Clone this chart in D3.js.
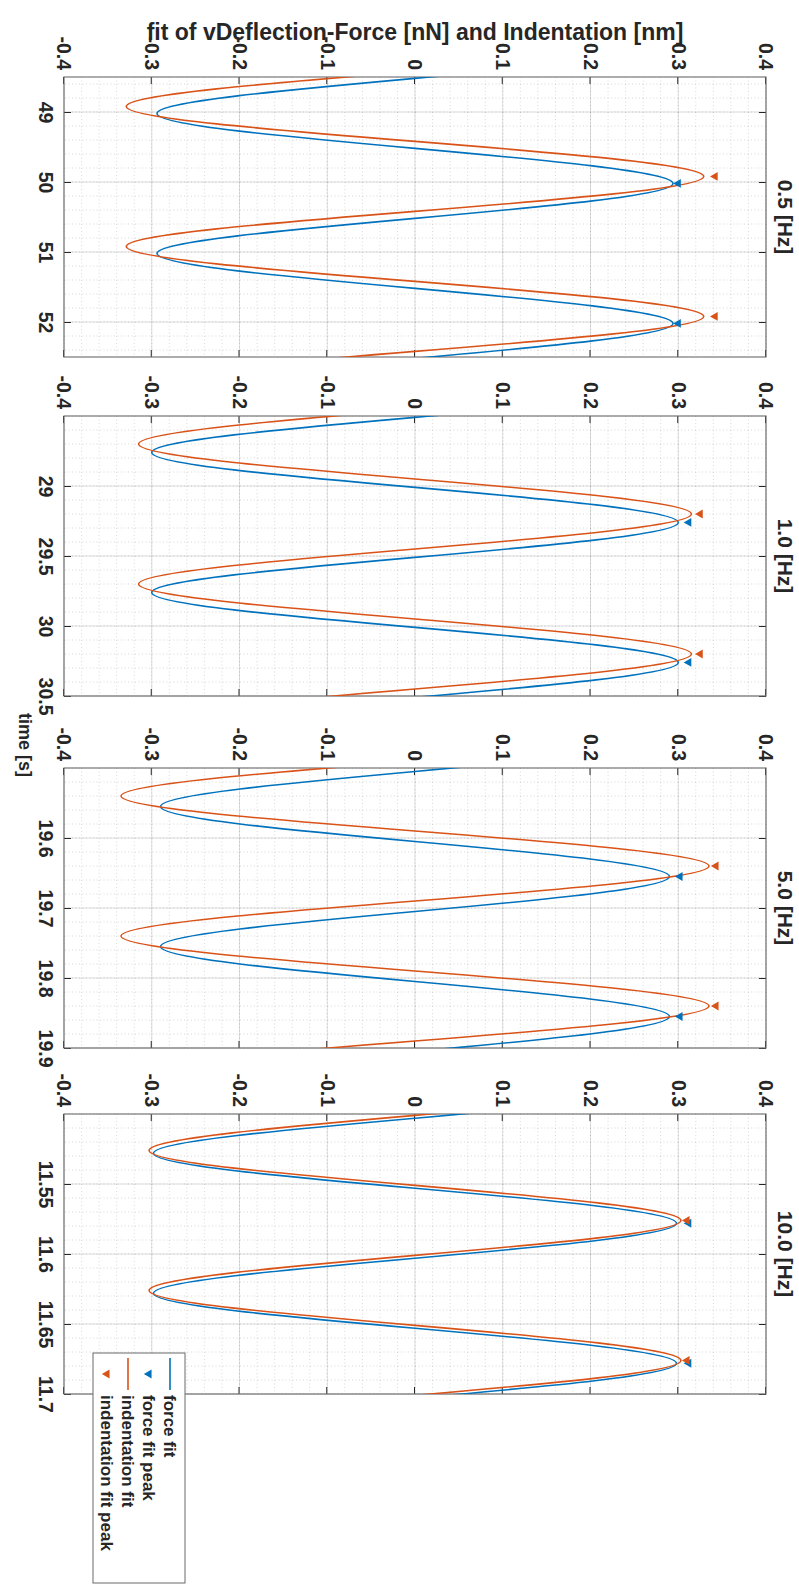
<!DOCTYPE html>
<html>
<head>
<meta charset="utf-8">
<script src="https://cdn.jsdelivr.net/npm/d3@7"></script>
<style>
    body { margin: 0; background: #fff; }
    text { font-family: "Liberation Sans", Arial, Helvetica, sans-serif; font-weight: bold; fill: #262626; }
</style>
</head>
<body>
<div id="chart"></div>
<script>
// ---- data ----
const panelTitles = ["0.5 [Hz]", "1.0 [Hz]", "5.0 [Hz]", "10.0 [Hz]"];
const timeDomains = [[48.5, 52.5], [28.5, 30.5], [19.5, 19.9], [11.5, 11.7]];
const timeTicks = [[49, 50, 51, 52], [29, 29.5, 30, 30.5], [19.6, 19.7, 19.8, 19.9], [11.55, 11.6, 11.65, 11.7]];
const valueDomain = [-0.4, 0.4];
const valueTicks = [-0.4, -0.3, -0.2, -0.1, 0, 0.1, 0.2, 0.3, 0.4];

// fit curves: peaks, troughs and zero crossings of each fit
const forceFitTime = [
    [47.52, 48.02, 48.52, 49.02, 49.52, 50.02, 50.52, 51.02, 51.52, 52.02, 52.52],
    [28.01, 28.26, 28.51, 28.76, 29.01, 29.26, 29.51, 29.76, 30.01, 30.26, 30.51],
    [19.405, 19.455, 19.505, 19.555, 19.605, 19.655, 19.705, 19.755, 19.805, 19.855, 19.905],
    [11.453, 11.478, 11.503, 11.528, 11.553, 11.578, 11.603, 11.628, 11.653, 11.678, 11.703]
];
const forceFitValue = [
    [0, 0.294, 0, -0.294, 0, 0.294, 0, -0.294, 0, 0.294, 0],
    [0, 0.300, 0, -0.300, 0, 0.300, 0, -0.300, 0, 0.300, 0],
    [0, 0.290, 0, -0.290, 0, 0.290, 0, -0.290, 0, 0.290, 0],
    [0, 0.298, 0, -0.298, 0, 0.298, 0, -0.298, 0, 0.298, 0]
];
const indentFitTime = [
    [48.42, 48.92, 49.42, 49.92, 50.42, 50.92, 51.42, 51.92, 52.42, 52.92, 53.42],
    [28.45, 28.70, 28.95, 29.20, 29.45, 29.70, 29.95, 30.20, 30.45, 30.70, 30.95],
    [19.49, 19.54, 19.59, 19.64, 19.69, 19.74, 19.79, 19.84, 19.89, 19.94, 19.99],
    [11.451, 11.476, 11.501, 11.526, 11.551, 11.576, 11.601, 11.626, 11.651, 11.676, 11.701]
];
const indentFitValue = [
    [0, -0.329, 0, 0.329, 0, -0.329, 0, 0.329, 0, -0.329, 0],
    [0, -0.315, 0, 0.315, 0, -0.315, 0, 0.315, 0, -0.315, 0],
    [0, -0.335, 0, 0.335, 0, -0.335, 0, 0.335, 0, -0.335, 0],
    [0, 0.303, 0, -0.303, 0, 0.303, 0, -0.303, 0, 0.303, 0]
];

// detected peaks
const forcePeakTime = [[50.02, 52.02], [29.26, 30.26], [19.655, 19.855], [11.578, 11.678]];
const forcePeakValue = [[0.300, 0.300], [0.312, 0.312], [0.302, 0.302], [0.312, 0.312]];
const indentPeakTime = [[49.92, 51.92], [29.20, 30.20], [19.64, 19.84], [11.576, 11.676]];
const indentPeakValue = [[0.342, 0.342], [0.325, 0.325], [0.343, 0.343], [0.310, 0.310]];

const legendLabels = ["force fit", "force fit peak", "indentation fit", "indentation fit peak"];

// ---- layout, drawn in the figure's own (unrotated) frame ----
const figW = 1585, figH = 799;
const panelLeft = [77, 416, 768, 1114];
const panelW = 280;
const plotTop = 33, plotBottom = 735;
const blue = "#0072BD", orange = "#D95319";
const ink = "#262626";

const svg = d3.select("#chart")
    .append("svg")
    .attr("width", figH)
    .attr("height", figW);

svg.append("rect").attr("width", figH).attr("height", figW).attr("fill", "white");

// the whole MATLAB figure is turned a quarter turn clockwise
const fig = svg.append("g").attr("transform", `translate(${figH},0) rotate(90)`);

const y = d3.scaleLinear().domain(valueDomain).range([plotBottom, plotTop]);

panelTitles.forEach((title, i) => drawPanel(i));
drawLegend();

// shared labels
fig.append("text")
    .attr("transform", `translate(40,${(plotTop + plotBottom) / 2}) rotate(-90)`)
    .attr("text-anchor", "middle")
    .style("font-size", "23px")
    .text("fit of vDeflection-Force [nN] and Indentation [nm]");

fig.append("text")
    .attr("x", 745)
    .attr("y", 780)
    .attr("text-anchor", "middle")
    .style("font-size", "18px")
    .text("time [s]");

function drawPanel(i) {
    const x0 = panelLeft[i];
    const x = d3.scaleLinear().domain(timeDomains[i]).range([x0, x0 + panelW]);
    const g = fig.append("g");

    // grid: minor dotted, major solid
    const minorX = x.ticks(20), minorY = y.ticks(40);
    g.append("g").selectAll("line").data(minorX).join("line")
        .attr("x1", d => x(d)).attr("x2", d => x(d))
        .attr("y1", plotTop).attr("y2", plotBottom)
        .attr("stroke", ink).attr("stroke-opacity", 0.22).attr("stroke-width", 0.8)
        .attr("stroke-dasharray", "1,2.5");
    g.append("g").selectAll("line").data(minorY).join("line")
        .attr("x1", x0).attr("x2", x0 + panelW)
        .attr("y1", d => y(d)).attr("y2", d => y(d))
        .attr("stroke", ink).attr("stroke-opacity", 0.22).attr("stroke-width", 0.8)
        .attr("stroke-dasharray", "1,2.5");
    g.append("g").selectAll("line").data(timeTicks[i]).join("line")
        .attr("x1", d => x(d)).attr("x2", d => x(d))
        .attr("y1", plotTop).attr("y2", plotBottom)
        .attr("stroke", ink).attr("stroke-opacity", 0.15).attr("stroke-width", 1);
    g.append("g").selectAll("line").data(valueTicks).join("line")
        .attr("x1", x0).attr("x2", x0 + panelW)
        .attr("y1", d => y(d)).attr("y2", d => y(d))
        .attr("stroke", ink).attr("stroke-opacity", 0.15).attr("stroke-width", 1);

    // axes with inward ticks on every side
    const fmt = d => String(d);
    const axes = [
        [d3.axisBottom(x).tickValues(timeTicks[i]).tickFormat(fmt).tickPadding(11), `translate(0,${plotBottom})`],
        [d3.axisTop(x).tickValues(timeTicks[i]).tickFormat(""), `translate(0,${plotTop})`],
        [d3.axisLeft(y).tickValues(valueTicks).tickFormat(fmt).tickPadding(7), `translate(${x0},0)`],
        [d3.axisRight(y).tickValues(valueTicks).tickFormat(""), `translate(${x0 + panelW},0)`]
    ];
    axes.forEach(([axis, tr]) => {
        const a = g.append("g")
            .attr("transform", tr)
            .call(axis.tickSize(-7))
            .attr("font-family", null)
            .attr("font-size", null);
        a.select(".domain").remove();
        a.selectAll("line").attr("stroke", ink).attr("stroke-width", 1);
        a.selectAll("text").style("font-size", "19.5px");
    });

    g.append("rect")
        .attr("x", x0).attr("y", plotTop)
        .attr("width", panelW).attr("height", plotBottom - plotTop)
        .attr("fill", "none").attr("stroke", "#6b6b6b").attr("stroke-width", 1.1);

    // curves
    const clipId = "clip" + i;
    g.append("clipPath").attr("id", clipId)
        .append("rect")
        .attr("x", x0).attr("y", plotTop)
        .attr("width", panelW).attr("height", plotBottom - plotTop);

    const line = d3.line()
        .x(d => x(d[0]))
        .y(d => y(d[1]))
        .curve(d3.curveNatural);

    const series = [
        [d3.zip(forceFitTime[i], forceFitValue[i]), blue],
        [d3.zip(indentFitTime[i], indentFitValue[i]), orange]
    ];
    g.append("g").attr("clip-path", `url(#${clipId})`)
        .selectAll("path").data(series).join("path")
        .attr("d", d => line(d[0]))
        .attr("fill", "none")
        .attr("stroke", d => d[1])
        .attr("stroke-width", 1.6);

    const tri = d3.symbol(d3.symbolTriangle, 34);
    const peaks = [
        ...d3.zip(forcePeakTime[i], forcePeakValue[i]).map(d => [d, blue]),
        ...d3.zip(indentPeakTime[i], indentPeakValue[i]).map(d => [d, orange])
    ];
    g.append("g").selectAll("path").data(peaks).join("path")
        .attr("d", tri)
        .attr("transform", d => `translate(${x(d[0][0])},${y(d[0][1])}) rotate(180)`)
        .attr("fill", d => d[1]);

    g.append("text")
        .attr("x", x0 + panelW / 2)
        .attr("y", 21)
        .attr("text-anchor", "middle")
        .style("font-size", "21px")
        .text(panelTitles[i]);
}

function drawLegend() {
    const lx = 1353, ly = 614, rowH = 21;
    const lg = fig.append("g");
    lg.append("rect")
        .attr("x", lx).attr("y", ly)
        .attr("width", 230).attr("height", rowH * legendLabels.length + 8)
        .attr("fill", "white").attr("stroke", "#6b6b6b").attr("stroke-width", 1);

    const colors = [blue, blue, orange, orange];
    const rows = lg.selectAll("g").data(legendLabels).join("g")
        .attr("transform", (d, k) => `translate(${lx},${ly + 15 + k * rowH})`);

    rows.filter((d, k) => k % 2 === 0).append("line")
        .attr("x1", 5).attr("x2", 37)
        .attr("stroke", (d, k) => colors[k * 2])
        .attr("stroke-width", 1.6);
    rows.filter((d, k) => k % 2 === 1).append("path")
        .attr("d", d3.symbol(d3.symbolTriangle, 34))
        .attr("transform", "translate(21,0) rotate(180)")
        .attr("fill", (d, k) => colors[k * 2 + 1]);

    rows.append("text")
        .attr("x", 42)
        .attr("dy", "0.35em")
        .style("font-size", "17px")
        .text(d => d);
}
</script>
</body>
</html>
